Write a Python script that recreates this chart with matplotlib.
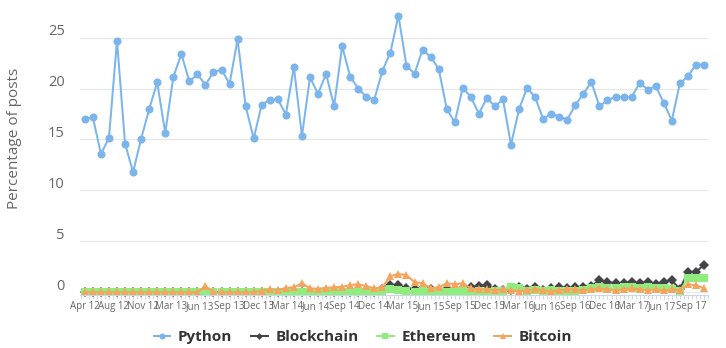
# Share of posts mentioning Python vs. crypto topics
import matplotlib.pyplot as plt
import matplotlib.transforms as mtransforms
import numpy as np

plt.rcParams['font.family'] = ['Open Sans', 'DejaVu Sans']

tick_labels = ['Apr 12', 'Aug 12', 'Nov 12', 'Mar 13', 'Jun 13', 'Sep 13', 'Dec 13',
               'Mar 14', 'Jun 14', 'Sep 14', 'Dec 14', 'Mar 15', 'Jun 15', 'Sep 15',
               'Dec 15', 'Mar 16', 'Jun 16', 'Sep 16', 'Dec 16', 'Mar 17', 'Jun 17', 'Sep 17']

python = [17.0, 17.16, 13.6, 15.13, 24.7, 14.6, 11.8, 15.07, 17.97, 20.6,
          15.65, 21.1, 23.4, 20.7, 21.4, 20.36, 21.6, 21.86, 20.46, 24.84,
          18.27, 15.1, 18.43, 18.9, 18.95, 17.45, 22.1, 15.33, 21.1, 19.48,
          21.44, 18.27, 24.15, 21.18, 20.0, 19.18, 18.92, 21.73, 23.53, 27.16,
          22.25, 21.44, 23.82, 23.1, 21.96, 18.04, 16.67, 20.1, 19.18, 17.55,
          19.05, 18.27, 18.95, 14.48, 17.97, 20.07, 19.15, 17.0, 17.55, 17.22,
          16.96, 18.37, 19.48, 20.65, 18.24, 18.86, 19.18, 19.18, 19.15, 20.56,
          19.9, 20.23, 18.6, 16.86, 20.5, 21.2, 22.35, 22.35]

blockchain = [0] * 37 + [
    0.3, 0.7, 0.7, 0.4, 0.3, 0.4, 0.3, 0.2, 0.3, 0.3,
    0.4, 0.5, 0.6, 0.7, 0.3, 0.2, 0.2, 0.5, 0.3, 0.5,
    0.2, 0.4, 0.5, 0.4, 0.5, 0.5, 0.6, 1.2, 1.0, 0.9,
    0.9, 1.0, 0.9, 1.0, 0.8, 1.0, 1.2, 0.3, 2.0, 2.0, 2.7]

ethereum = [0] * 37 + [
    0.1, 0.3, 0.2, 0.1, 0.05, 0.1, 0.05, 0.1, 0.05, 0.1,
    0.1, 0.05, 0.1, 0.05, 0.1, 0.1, 0.5, 0.4, 0.1, 0.2,
    0.1, 0.2, 0.1, 0.1, 0.1, 0.2, 0.4, 0.5, 0.4, 0.4,
    0.5, 0.5, 0.4, 0.5, 0.4, 0.4, 0.3, 0.1, 1.4, 1.4, 1.4]

bitcoin = [0] * 15 + [0.65] + [0] * 6 + [
    0.15, 0.3, 0.2, 0.45, 0.5, 0.9, 0.4, 0.35, 0.45, 0.5,
    0.55, 0.7, 0.8, 0.6, 0.4, 0.5, 1.6, 1.8, 1.7, 1.0,
    0.9, 0.4, 0.5, 0.9, 0.8, 0.9, 0.4, 0.3, 0.3, 0.2,
    0.3, 0.2, 0.1, 0.2, 0.3, 0.2, 0.1, 0.2, 0.3, 0.3,
    0.2, 0.3, 0.4, 0.3, 0.2, 0.3, 0.4, 0.3, 0.2, 0.3,
    0.2, 0.3, 0.2, 0.8, 0.7, 0.4]

x = np.arange(len(python))

fig = plt.figure(figsize=(7.26, 3.48), dpi=100)
ax = fig.add_axes([0.1102, 0.1511, 0.865, 0.820])

series = [
    ('Python', python, '#7cb5ec', 'o', 5.8),
    ('Blockchain', blockchain, '#434348', 'D', 4.6),
    ('Ethereum', ethereum, '#90ed7d', 's', 5.2),
    ('Bitcoin', bitcoin, '#f7a35c', '^', 5.6),
]
handles = []
for name, vals, color, marker, ms in series:
    h, = ax.plot(x, vals, color=color, lw=1.45, marker=marker, ms=ms,
                 markeredgewidth=0, label=name, clip_on=False)
    handles.append(h)

ax.set_xlim(-0.6, 77.5)
ax.set_ylim(-0.3, 27.7)

ax.set_yticks(np.arange(0, 26, 5))
ax.yaxis.grid(True, color='#e6e6e6', lw=0.8)
ax.set_axisbelow(True)
ax.tick_params(axis='y', length=0, pad=11, labelsize=10.5, labelcolor='#666666')
offset = mtransforms.ScaledTranslation(0, 0.08, fig.dpi_scale_trans)
for lab in ax.get_yticklabels():
    lab.set_transform(lab.get_transform() + offset)

# labels sit close together (slightly overlapping, as in the original)
ax.set_xticks(np.linspace(0, 75.4, len(tick_labels)))
ax.set_xticklabels(tick_labels)
ax.set_xticks(np.arange(-0.5, 78, 0.5), minor=True)
ax.tick_params(axis='x', which='major', length=0, pad=6, labelsize=7, labelcolor='#666666')
ax.tick_params(axis='x', which='minor', length=3, width=0.7, color='#ccd6eb')
down = mtransforms.ScaledTranslation(0, -0.055, fig.dpi_scale_trans)
for lab in ax.get_xticklabels():
    lab.set_va('baseline')
    lab.set_transform(lab.get_transform() + down)

for s in ['top', 'right', 'left']:
    ax.spines[s].set_visible(False)
ax.spines['bottom'].set_color('#ccd6eb')
ax.spines['bottom'].set_linewidth(0.8)

ax.set_ylabel('Percentage of posts', fontsize=11, color='#666666')
ax.yaxis.set_label_coords(-0.092, 0.55)

leg = fig.legend(handles=handles, loc='center', bbox_to_anchor=(0.5, 1 - 337 / 348),
                 ncol=4, frameon=False, handlelength=1.1, handletextpad=0.5,
                 columnspacing=1.2, markerscale=0.75,
                 prop={'weight': 'bold', 'size': 11})
for t in leg.get_texts():
    t.set_color('#333333')

fig.savefig('out.png', dpi=100)
